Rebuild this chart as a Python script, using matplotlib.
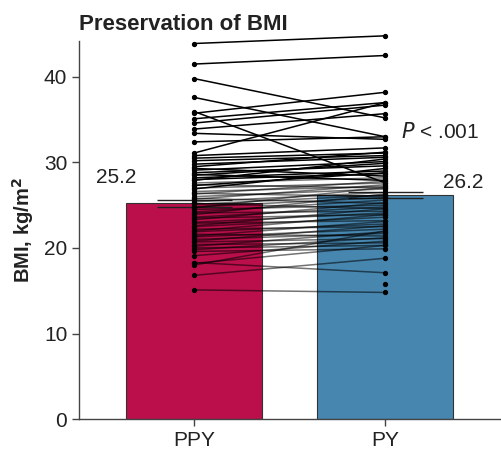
import matplotlib.pyplot as plt
import numpy as np

plt.rcParams["font.family"] = ["Liberation Sans", "DejaVu Sans"]

groups = ["PPY", "PY"]
bar_means = [25.2, 26.2]
bar_err = [0.45, 0.4]
bar_colors = ["#BA0F4B", "#4786AF"]

# paired patient values (PPY, PY); nan = missing
ppy = [43.9, 41.5, 39.8, 37.6, 35.95, 35.75, 35.1, 34.6, 33.9, 33.4, 32.4,
       31.1, 30.8, 30.5, 30.2,
       29.8, 29.5, 29.3, 29.1, 28.8, 28.6, 28.5, 28.2, 28.0, 27.9, 27.6, 27.4,
       27.3, 27.0, 26.9, 26.6, 26.4, 26.3, 26.0, 25.8, 25.7, 25.4, 25.2, 25.1,
       24.8, 24.7, 24.5, 24.2, 24.1, 23.9, 23.6, 23.5, 23.3, 23.0, 22.9, 22.6,
       22.5, 22.2, 22.0, 21.9, 21.6, 21.4, 21.3, 21.0, 20.8, 20.7, 20.4, 20.2,
       20.0, 19.8, 19.6, 19.1,
       18.3, 18.2, 18.0, 16.8, 15.1, np.nan]
py = [44.8, 42.5, 35.2, 33.0, 27.6, 38.2, 37.0, 36.7, 35.7, 32.7, 33.0,
      37.0, 31.7, 31.1, 30.8,
      30.6, 31.2, 28.4, 30.1, 29.6, 27.9, 29.9, 29.0, 28.7, 30.4, 28.2, 27.0,
      28.8, 27.6, 29.3, 27.2, 26.0, 27.8, 26.9, 25.2, 27.4, 26.5, 24.6, 26.2,
      25.9, 27.1, 25.0, 25.6, 24.3, 26.3, 24.8, 23.9, 25.3, 24.1, 23.2, 24.6,
      23.6, 22.5, 23.9, 22.8, 21.4, 23.1, 22.2, 21.7, 22.6, 21.1, 20.6, 21.9,
      20.3, 21.2, 19.9, 20.8,
      17.1, 20.3, 22.0, 18.8, 14.8, 15.8]

fig = plt.figure(figsize=(5.01, 4.55), dpi=100)
ax = fig.add_axes([0.158, 0.079, 0.84, 0.831])

x = np.arange(len(groups))
ax.bar(x, bar_means, width=0.71, color=bar_colors, edgecolor="#333333",
       linewidth=0.8, zorder=1)
ax.errorbar(x, bar_means, yerr=bar_err, fmt="none", ecolor="#222222",
            elinewidth=1, capsize=27, capthick=1, zorder=2)

for a, b in zip(ppy, py):
    dense = max(a, b) < 28.5 if not np.isnan(a) else False
    ax.plot([0, 1], [a, b], color="black", linewidth=1.1,
            alpha=0.55 if dense else 1.0, zorder=3, clip_on=False)
    ax.plot([0, 1], [a, b], linestyle="none", marker="o", markersize=2.8,
            color="black", zorder=4, clip_on=False)

ax.text(-0.41, 28.2, f"{bar_means[0]:.1f}", ha="center", va="center",
        fontsize=15, color="#222222")
ax.text(1.41, 27.6, f"{bar_means[1]:.1f}", ha="center", va="center",
        fontsize=15, color="#222222")
ax.text(1.08, 33.6, "$P$ < .001", ha="left", va="center", fontsize=15,
        color="#222222")

ax.set_xlim(-0.602, 1.6)
ax.set_ylim(0, 44.2)
ax.set_yticks([0, 10, 20, 30, 40])
ax.set_xticks(x)
ax.set_xticklabels(groups)
ax.tick_params(labelsize=15, colors="#222222", length=5, width=1,
               color="#444444")
for side in ["top", "right"]:
    ax.spines[side].set_visible(False)
for side in ["left", "bottom"]:
    ax.spines[side].set_color("#444444")
    ax.spines[side].set_linewidth(1)

ax.set_ylabel("BMI, kg/m$^\\mathbf{2}$", fontsize=14.5, fontweight="bold",
              color="#222222", labelpad=6)
ax.set_title("Preservation of BMI", fontsize=16, fontweight="bold",
             loc="left", x=0.0, y=1.0, pad=8, color="#222222")

fig.savefig("out.png", dpi=100)
